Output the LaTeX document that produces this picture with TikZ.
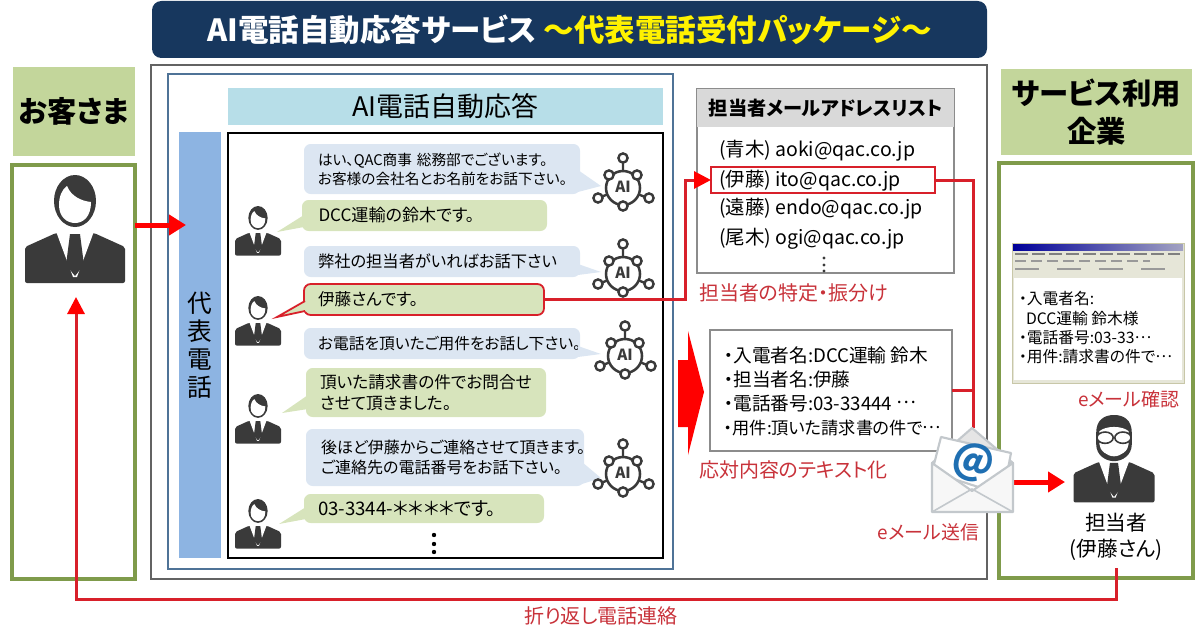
\documentclass[tikz,border=0pt]{standalone}
\usepackage{fontspec}
\setmainfont[RawFeature=+palt]{Noto Sans CJK JP}
\usetikzlibrary{arrows.meta, positioning}

\def\px{.75pt}
\newcommand{\middots}{\raisebox{.33em}{…}}

\definecolor{titlenavy}{HTML}{17375E}
\definecolor{headgreen}{HTML}{C3D69B}
\definecolor{olive}{HTML}{7F9B4B}
\definecolor{framegray}{HTML}{636363}
\definecolor{frameblue}{HTML}{4F7397}
\definecolor{headblue}{HTML}{B7DEE8}
\definecolor{barblue}{HTML}{8DB4E2}
\definecolor{bubblue}{HTML}{DCE6F2}
\definecolor{bubgreen}{HTML}{D7E4BC}
\definecolor{listgray}{HTML}{8C8C8C}
\definecolor{redtext}{HTML}{C8323A}
\definecolor{redline}{HTML}{D8202A}
\definecolor{ink}{HTML}{3A3A3A}
\definecolor{envgray}{HTML}{C3C8CC}
\definecolor{winbeige}{HTML}{C8C7A8}

\tikzstyle{panel} = [rectangle, anchor=north west, minimum height=30*\px]
\tikzstyle{header} = [panel, fill=headgreen, font=\bfseries\fontsize{22}{30}\selectfont, align=center]
\tikzstyle{bluebub} = [panel, fill=bubblue, rounded corners=5pt, align=left, inner xsep=14*\px, text width=248*\px, font=\fontsize{11.8}{14.5}\selectfont]
\tikzstyle{greenbub} = [panel, fill=bubgreen, rounded corners=5pt, align=left, inner xsep=14*\px, text width=212*\px, font=\fontsize{12.5}{15.5}\selectfont]
\tikzstyle{listrow} = [anchor=west, font=\fontsize{14.6}{14.6}\selectfont]
\tikzstyle{redlabel} = [anchor=west, text=redtext, font=\fontsize{15}{17}\selectfont]
\tikzstyle{arrow} = [red, line width=5*\px, -{Triangle[length=17*\px, width=20*\px]}]
\tikzstyle{connect} = [redline, line width=3*\px]
\tikzstyle{redarrow} = [connect, -{Triangle[red, length=17*\px, width=17*\px]}]

\newcommand{\suitbody}{
	\fill[ink, rounded corners=1.5pt] (-50,108) -- (-50,72) -- (-19,58) -- (19,58) -- (50,72) -- (50,108) -- cycle;
	\fill[white] (-21,51) -- (21,51) -- (2,102) -- (-2,102) -- cycle;
	\fill[ink] (-5,59) -- (5,59) -- (9,90) -- (0,101) -- (-9,90) -- cycle;
}

\tikzset{
	manpic/.pic={
		\suitbody
		\fill[ink] (0,26) ellipse [x radius=21, y radius=26];
		\fill[white] (-16,30) .. controls (-16,22) and (-13,14) .. (-8,11) .. controls (-4,21) and (6,26) .. (16,27) .. controls (16,42) and (8,48) .. (0,48) .. controls (-8,48) and (-16,42) .. (-16,30) -- cycle;
	},
	bosspic/.pic={
		\suitbody
		\fill[ink] (-22,22) .. controls (-22,6) and (-12,0) .. (0,0) .. controls (12,0) and (22,6) .. (22,22) -- (22,36) .. controls (22,50) and (10,57) .. (0,57) .. controls (-10,57) and (-22,50) .. (-22,36) -- cycle;
		\fill[white] (-18,20) .. controls (-10,13) and (10,13) .. (18,20) -- (18,36) .. controls (18,44) and (8,51) .. (0,51) .. controls (-8,51) and (-18,44) .. (-18,36) -- cycle;
		\draw[ink, fill=white, line width=1.2pt] (-11,28) ellipse [x radius=10, y radius=7];
		\draw[ink, fill=white, line width=1.2pt] (11,28) ellipse [x radius=10, y radius=7];
	},
	aipic/.pic={
		\draw[ink, line width=1.8pt] (0,-26) -- (0,0) (-22,9) -- (0,0) (22,9) -- (0,0);
		\draw[ink, fill=white, line width=1.9pt] (0,0) circle [radius=17];
		\foreach \sx/\sy in {0/-30, -14/-13, 14/-13, -25/10, 26/10, 0/18}
			\draw[ink, fill=white, line width=1.8pt] (\sx,\sy) circle [radius=4.6];
		\node(-ai) [text=ink, font=\bfseries\fontsize{11.5}{11.5}\selectfont] at (0,-1) {AI};
	}
}

\begin{document}
\begin{tikzpicture}[x=.75pt, y=-.75pt, every node/.style={inner sep=0pt, outer sep=0pt}]
	\useasboundingbox (0,0) rectangle (1200,635);

	% Title - - - - - - - - - - - - - - - - - - - - - - - - - - - - - - - - - -
	\node(title) [panel, fill=titlenavy, rounded corners=7pt, minimum width=835*\px, minimum height=57*\px, font=\bfseries\fontsize{22.9}{22.9}\selectfont, text=white] at (152,1)
		{AI電話自動応答サービス \textcolor{yellow}{〜代表電話受付パッケージ〜}};

	% Customer side - - - - - - - - - - - - - - - - - - - - - - - - - - - - - -
	\node(custhead) [header, minimum width=122*\px, minimum height=89*\px] at (13,67) {お客さま};
	\node(custbox) [panel, draw=olive, line width=3.4*\px, minimum width=123*\px, minimum height=414*\px] at (12,165) {};
	\pic(custman) at (75,175) {manpic};

	% Service frame - - - - - - - - - - - - - - - - - - - - - - - - - - - - - -
	\node(frame) [panel, draw=framegray, line width=2.4*\px, minimum width=836*\px, minimum height=514*\px] at (151,65) {};
	\node(aiframe) [panel, draw=frameblue, line width=1.5*\px, minimum width=505*\px, minimum height=495*\px] at (168,74) {};
	\node(aihead) [panel, fill=headblue, minimum width=435*\px, minimum height=37*\px, font=\fontsize{20.2}{20.2}\selectfont] at (228,88) {AI電話自動応答};
	\node(telbar) [panel, fill=barblue, minimum width=42*\px, minimum height=426*\px, align=center, font=\fontsize{18.5}{21}\selectfont] at (179,132) {代\\表\\電\\話};
	\node(talkbox) [panel, draw=black, line width=1.6*\px, minimum width=435*\px, minimum height=425*\px] at (228,133) {};

	% Bubbles of the AI
	\node(aione) [bluebub, minimum width=276*\px, minimum height=50*\px, font=\fontsize{11}{14.5}\selectfont] at (304,144)
		{はい、QAC商事 総務部でございます。\\お客様の会社名とお名前をお話下さい。};
	\node(aitwo) [bluebub, minimum width=276*\px, minimum height=31*\px, font=\fontsize{12.2}{14.5}\selectfont] at (304,246)
		{弊社の担当者がいればお話下さい};
	\node(aithree) [bluebub, minimum width=276*\px, minimum height=31*\px] at (304,328)
		{お電話を頂いたご用件をお話し下さい。};
	\node(aifour) [bluebub, minimum width=275*\px, minimum height=57*\px, inner xsep=15*\px, font=\fontsize{12}{15}\selectfont] at (306,429)
		{後ほど伊藤からご連絡させて頂きます。\\ご連絡先の電話番号をお話下さい。};

	% Bubbles of the caller
	\node(callone) [greenbub, minimum width=245*\px, minimum height=31*\px, font=\fontsize{12.8}{15.5}\selectfont] at (302,200) {DCC運輸の鈴木です。};
	\node(calltwo) [greenbub, draw=redline, line width=1.8*\px, minimum width=239*\px, minimum height=31*\px] at (304,284) {伊藤さんです。};
	\node(callthree) [greenbub, minimum width=237*\px, minimum height=49*\px] at (306,368)
		{頂いた請求書の件でお問合せ\\させて頂きました。};
	\node(callfour) [greenbub, minimum width=239*\px, minimum height=29*\px, font=\fontsize{14}{15.5}\selectfont] at (304,494) {03-3344-＊＊＊＊です。};

	% Bubble tails
	\coordinate(tipaione) at (601,186);
	\coordinate(tipaitwo) at (601,272);
	\coordinate(tipaithree) at (601,354);
	\coordinate(tipaifour) at (601,478);
	\fill[bubblue] ([shift={(-2,-24)}]aione.south east) -- (tipaione) -- ([shift={(-2,-2)}]aione.south east) -- cycle;
	\fill[bubblue] ([shift={(-2,-13)}]aitwo.south east) -- (tipaitwo) -- ([shift={(-2,-2)}]aitwo.south east) -- cycle;
	\fill[bubblue] ([shift={(-2,-13)}]aithree.south east) -- (tipaithree) -- ([shift={(-2,-2)}]aithree.south east) -- cycle;
	\fill[bubblue] ([shift={(-2,-24)}]aifour.south east) -- (tipaifour) -- ([shift={(-2,-2)}]aifour.south east) -- cycle;

	\coordinate(tipcallone) at (277,232);
	\coordinate(tipcalltwo) at (277,317);
	\coordinate(tipcallthree) at (282,413);
	\coordinate(tipcallfour) at (279,524);
	\fill[bubgreen] ([shift={(2,-16)}]callone.south west) -- (tipcallone) -- ([shift={(2,-4)}]callone.south west) -- cycle;
	\fill[bubgreen] ([shift={(2,-22)}]callthree.south west) -- (tipcallthree) -- ([shift={(2,-8)}]callthree.south west) -- cycle;
	\fill[bubgreen] ([shift={(2,-16)}]callfour.south west) -- (tipcallfour) -- ([shift={(2,-4)}]callfour.south west) -- cycle;
	\fill[bubgreen] ([shift={(3,-14)}]calltwo.south west) -- (tipcalltwo) -- ([shift={(3,-4)}]calltwo.south west) -- cycle;
	\draw[redline, line width=1.8*\px] ([shift={(1,-14)}]calltwo.south west) -- (tipcalltwo) -- ([shift={(1,-4)}]calltwo.south west);

	% People and AI icons
	\foreach \nm/\yy in {mana/206, manb/296, manc/394, mand/499}
		\pic(\nm) [scale=.46] at (258,\yy) {manpic};
	\foreach \nm/\xx/\yy in {aia/623/188, aib/623/274, aic/625/356, aid/623/474}
		\pic(\nm) at (\xx,\yy) {aipic};
	\foreach \ya in {535, 544, 552}
		\fill[black] (434,\ya) circle [radius=2.2];

	% Address list - - - - - - - - - - - - - - - - - - - - - - - - - - - - - - 
	\node(listbox) [panel, draw=listgray, line width=1.4*\px, fill=white, minimum width=257*\px, minimum height=184*\px] at (697,89) {};
	\node(listhead) [panel, fill=black!15, minimum width=257*\px, minimum height=38*\px, font=\bfseries\fontsize{14.4}{14.4}\selectfont] at (697,89) {担当者メールアドレスリスト};
	\node(aokirow) [listrow] at (719,151) {(青木) aoki@qac.co.jp};
	\node(itorow) [listrow] at (719,181) {(伊藤) ito@qac.co.jp};
	\node(endorow) [listrow] at (719,209) {(遠藤) endo@qac.co.jp};
	\node(ogirow) [listrow] at (719,239) {(尾木) ogi@qac.co.jp};
	\foreach \ya in {258, 265, 271}
		\fill[ink] (824,\ya) circle [radius=1.6];
	\node(itomark) [panel, draw=redline, line width=1.8*\px, minimum width=224*\px, minimum height=26*\px] at (711,167) {};
	\node(listlabel) [redlabel] at (699,293) {担当者の特定・振分け};

	% Text record - - - - - - - - - - - - - - - - - - - - - - - - - - - - - - -
	\node(record) [panel, draw=listgray, line width=1.6*\px, fill=white, minimum width=242*\px, minimum height=121*\px] at (710,330) {};
	\node(recordtext) [anchor=west, align=left, font=\fontsize{14}{18}\selectfont] at (724,391)
		{・入電者名:DCC運輸 鈴木\\・担当者名:伊藤\\・電話番号:03-33444 \middots\\{\fontsize{12.9}{18}\selectfont ・用件:頂いた請求書の件で\middots}};
	\node(recordlabel) [redlabel] at (699,470) {応対内容のテキスト化};
	\fill[red] (678,360) -- (688,360) -- (688,331) -- (704,392) -- (688,455) -- (688,427) -- (678,427) -- cycle;

	% Service user - - - - - - - - - - - - - - - - - - - - - - - - - - - - - - 
	\node(userhead) [header, minimum width=191*\px, minimum height=86*\px, font=\bfseries\fontsize{22}{28.5}\selectfont] at (1001,69) {サービス利用\\企業};
	\node(userbox) [panel, draw=olive, line width=3.4*\px, minimum width=194*\px, minimum height=415*\px] at (999,163) {};

	\node(mailwin) [panel, fill=winbeige!45, draw=winbeige, line width=1*\px, minimum width=172*\px, minimum height=140*\px] at (1012,243) {};
	\shade[left color=blue!60!black, right color=blue!20!gray!60] (1013,244) rectangle (1183,250);
	\draw[gray, line width=2.2*\px, dash pattern=on 13*\px off 4*\px] (1015,254) -- (1180,254);
	\draw[gray!80, line width=2*\px, dash pattern=on 11*\px off 5*\px] (1015,261) -- (1150,261);
	\draw[gray!80, line width=2*\px, dash pattern=on 24*\px off 18*\px] (1015,269) -- (1175,269);
	\node(mailbody) [panel, fill=white, minimum width=168*\px, minimum height=102*\px] at (1014,278) {};
	\node(mailtext) [anchor=west, align=left, font=\fontsize{11.8}{14.5}\selectfont] at (1019,328)
		{・入電者名:\\\ \ DCC運輸 鈴木様\\・電話番号:03-33\middots\\・用件:請求書の件で\middots};
	\node(maillabel) [redlabel, font=\fontsize{14.2}{17}\selectfont] at (1078,399) {eメール確認};

	\pic(manager) [scale=.81] at (1114,415) {bosspic};
	\node(managerlabel) [minimum height=62*\px, align=center, font=\fontsize{15.5}{20}\selectfont] at (1116,537) {担当者\\(伊藤さん)};

	% Arrows - - - - - - - - - - - - - - - - - - - - - - - - - - - - - - - - - 
	\node(mailicon) [minimum width=81*\px, minimum height=85*\px] at (973,470) {};
	\coordinate(intip) at (186,225);
	\coordinate(turn) at (685,240);
	\coordinate(backtip) at (76,297);
	\coordinate(backlow) at (600,599);
	\coordinate(usertip) at (1065,482);

	\draw[arrow](custbox.east |- intip)--(intip);
	\draw[redarrow](calltwo.east)--(calltwo.east -| turn)|-(itomark.west);
	\draw[connect](itomark.east)-|(mailicon.north);
	\draw[connect](record.east)--(record.east -| mailicon.north);
	\draw[redarrow](managerlabel.south)|-(backlow)-|(backtip);
	\draw[arrow](mailicon.east |- usertip)--(usertip);

	% Envelope - - - - - - - - - - - - - - - - - - - - - - - - - - - - - - - -
	\draw[envgray, fill=black!10, line width=1.6pt, line join=round] (932,463) -- (972,428) -- (1013,463) -- cycle;
	\draw[envgray, fill=white, line width=1.6pt, line join=round] (941,437) -- (1011,453) -- (1003,495) -- (932,472) -- cycle;
	\node(atmark) [rotate=-12, text={rgb,255:red,31;green,111;blue,178}, font=\bfseries\fontsize{30}{30}\selectfont] at (973,463) {@};
	\draw[envgray, fill=black!3, line width=1.6pt, line join=round] (932,463) -- (972,491) -- (1013,463) -- (1013,512) -- (932,512) -- cycle;
	\draw[envgray, line width=1.2pt] (932,512) -- (972,489) -- (1013,512);
	\node(maillabelsent) [redlabel, anchor=east, font=\fontsize{14.2}{17}\selectfont] at (979,532) {eメール送信};

	\node(backlabel) [redlabel, anchor=center] at (601,616) {折り返し電話連絡};

\end{tikzpicture}
\end{document}
